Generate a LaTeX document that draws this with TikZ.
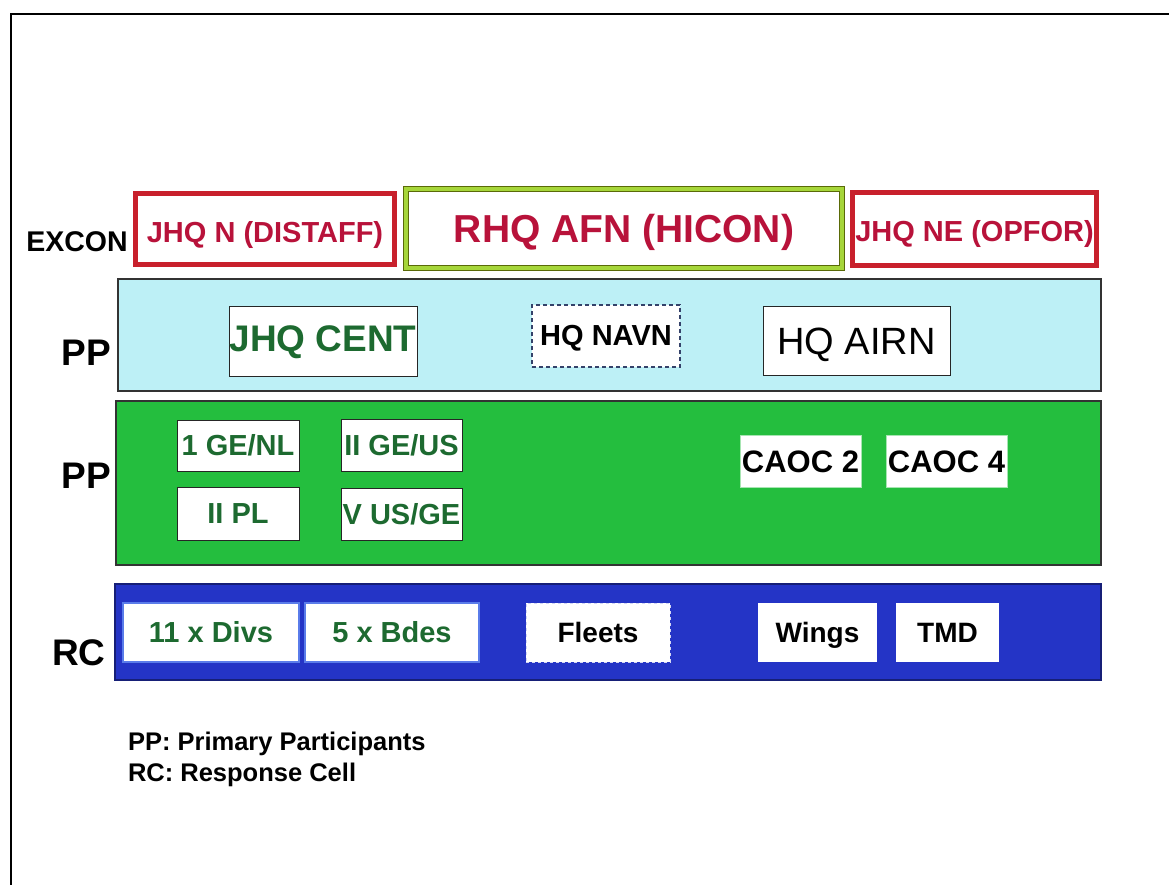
\documentclass[tikz,border=0pt]{standalone}
\usepackage{fontspec}
\setmainfont{Liberation Sans}
\begin{document}
\definecolor{crim}{HTML}{B8123A}
\definecolor{redline}{HTML}{C8202C}
\definecolor{olive}{HTML}{5A6A08}
\definecolor{lime}{HTML}{A6D63A}
\definecolor{cyanband}{HTML}{BDF0F6}
\definecolor{greenband}{HTML}{24BE3E}
\definecolor{blueband}{HTML}{2434C6}
\definecolor{darkgreen}{HTML}{1D6A30}
\definecolor{paleblue}{HTML}{5A7CEA}
\definecolor{dashblue}{HTML}{34426A}
\newcommand{\fsz}[1]{\fontsize{#1pt}{#1pt}\selectfont\bfseries}
% box of cap height and no depth, so capitals sit centred; optional lift
\newcommand{\cc}[2][0pt]{\raisebox{#1}[0.716em][0pt]{#2}}
\begin{tikzpicture}[x=1pt,y=-1pt,
  every node/.style={inner sep=0pt, outer sep=0pt},
  redbox/.style={draw=redline, line width=5pt, fill=white, text=crim},
  band/.style={draw=black!80, line width=1.2pt},
  wbox/.style={draw=black!85, line width=1pt, fill=white},
  rowlabel/.style={text=black, font=\fsz{37}},
  smalltext/.style={font=\fsz{29}}]
\useasboundingbox (0,0) rectangle (1169,885);

% outer frame
\draw[line width=2.5pt] (10,14) -- (1169,14);
\draw[line width=2.5pt] (11,14) -- (11,885);

% EXCON row
\node[font=\fsz{28.5}] (excon) at (77,241) {\cc{EXCON}};
\node[redbox, minimum width=259pt, minimum height=71pt, smalltext] (jhqn) at (265,229) {\cc[-3.5pt]{JHQ N (DISTAFF)}};
\node[draw=olive, double=lime, double distance=4pt, line width=1.2pt, fill=white,
      minimum width=436pt, minimum height=79pt, text=crim, font=\fsz{39}] (rhq) at (624,228.5) {\cc[-0.5pt]{RHQ AFN (HICON)}};
\node[redbox, minimum width=244pt, minimum height=73pt, smalltext] (jhqne) at (974.5,229) {\cc[-2pt]{JHQ NE (OPFOR)}};

% PP band 1
\node[band, fill=cyanband, minimum width=983pt, minimum height=112pt] (ppband1) at (609.5,335) {};
\node[rowlabel] (pp1) at (86,352) {\cc{PP}};
\node[wbox, minimum width=188pt, minimum height=70pt, text=darkgreen, font=\fsz{37}] (jhqcent) at (323,341) {\cc[3pt]{JHQ CENT}};
\node[draw=dashblue, dash pattern=on 4pt off 3pt, line width=1.2pt, fill=white,
      minimum width=148pt, minimum height=62pt, font=\fsz{29}] (hqnavn) at (606,336) {\cc[1pt]{HQ NAVN}};
\node[wbox, minimum width=187pt, minimum height=69pt, font=\fontsize{38pt}{38pt}\selectfont] (hqairn) at (856.5,340.5) {\cc{HQ AIRN}};

% PP band 2
\node[band, fill=greenband, minimum width=985pt, minimum height=164pt] (ppband2) at (608.5,483) {};
\node[rowlabel] (pp2) at (86,475) {\cc{PP}};
\node[wbox, minimum width=122pt, minimum height=51pt, text=darkgreen, smalltext] (genl) at (238,445.5) {\cc{1 GE/NL}};
\node[wbox, minimum width=121pt, minimum height=52pt, text=darkgreen, smalltext] (geus) at (401.5,445) {\cc{II GE/US}};
\node[wbox, minimum width=122pt, minimum height=53pt, text=darkgreen, smalltext] (pl) at (238,513.5) {\cc{II PL}};
\node[wbox, minimum width=121pt, minimum height=52pt, text=darkgreen, smalltext] (usge) at (401.5,514) {\cc{V US/GE}};
\node[draw=greenband!40!white, line width=0.8pt, fill=white, minimum width=121pt, minimum height=52pt, font=\fsz{31}] (caoc2) at (800.5,461) {\cc{CAOC 2}};
\node[draw=greenband!40!white, line width=0.8pt, fill=white, minimum width=121pt, minimum height=52pt, font=\fsz{31}] (caoc4) at (946.5,461) {\cc{CAOC 4}};

% RC band
\node[draw=blueband!60!black, line width=1.2pt, fill=blueband, minimum width=986pt, minimum height=96pt] (rcband) at (608,632) {};
\node[rowlabel] (rc) at (79,652) {\cc{RC}};
\node[draw=paleblue, line width=1.5pt, fill=white, minimum width=176pt, minimum height=59pt, text=darkgreen, smalltext] (divs) at (211,632.5) {\cc{11 x Divs}};
\node[draw=paleblue, line width=1.5pt, fill=white, minimum width=174pt, minimum height=59pt, text=darkgreen, smalltext] (bdes) at (392,632.5) {\cc{5 x Bdes}};
\node[draw=white!80!blueband, dashed, line width=1pt, fill=white, minimum width=144pt, minimum height=59pt, font=\fsz{28}] (fleets) at (598,632.5) {\cc{Fleets}};
\node[fill=white, minimum width=119pt, minimum height=59pt, font=\fsz{28}] (wings) at (817.5,632.5) {\cc{Wings}};
\node[fill=white, minimum width=103pt, minimum height=59pt, font=\fsz{28}] (tmd) at (947.5,632.5) {\cc{TMD}};

% legend
\node[anchor=west, font=\fsz{25.5}] (leg1) at (128,741) {\cc{PP: Primary Participants}};
\node[anchor=west, font=\fsz{25.5}] (leg2) at (128,772) {\cc{RC: Response Cell}};
\end{tikzpicture}
\end{document}
